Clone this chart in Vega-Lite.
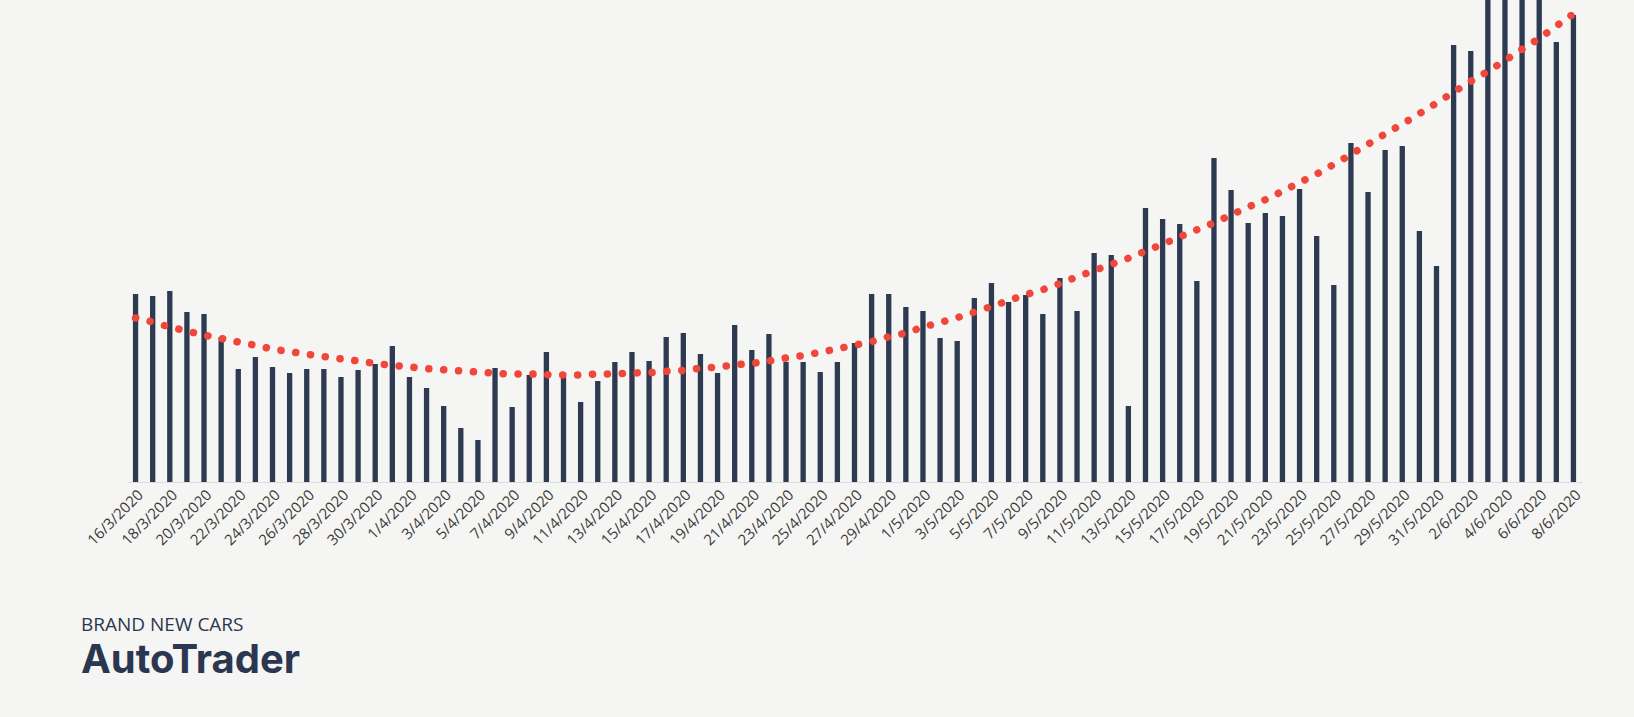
{
  "$schema": "https://vega.github.io/schema/vega-lite/v6.json",
  "autosize": {"type": "none"},
  "width": 1455,
  "height": 482,
  "padding": {"left": 127, "top": 0, "right": 52, "bottom": 235},
  "background": "#f5f5f3",
  "config": {"view": {"stroke": null}, "font": "Open Sans"},
  "title": {
    "text": "BRAND NEW CARS",
    "subtitle": "AutoTrader",
    "orient": "bottom",
    "anchor": "start",
    "frame": "group",
    "dx": -46,
    "offset": 68,
    "font": "Open Sans",
    "fontSize": 19,
    "fontWeight": 400,
    "color": "#2b3750",
    "subtitleFont": "Inter",
    "subtitleFontSize": 40,
    "subtitleFontWeight": 700,
    "subtitleColor": "#2b3750",
    "subtitlePadding": 6
  },
  "data": {"values": [
    {"date": "16/3/2020", "value": 188, "trend": 164},
    {"date": "17/3/2020", "value": 186, "trend": 160},
    {"date": "18/3/2020", "value": 191, "trend": 155},
    {"date": "19/3/2020", "value": 170, "trend": 151},
    {"date": "20/3/2020", "value": 168, "trend": 147},
    {"date": "21/3/2020", "value": 145, "trend": 143.5},
    {"date": "22/3/2020", "value": 113, "trend": 140},
    {"date": "23/3/2020", "value": 125, "trend": 136.6},
    {"date": "24/3/2020", "value": 115, "trend": 133},
    {"date": "25/3/2020", "value": 109, "trend": 130.4},
    {"date": "26/3/2020", "value": 113, "trend": 127.8},
    {"date": "27/3/2020", "value": 113, "trend": 125.5},
    {"date": "28/3/2020", "value": 105, "trend": 123.2},
    {"date": "29/3/2020", "value": 112, "trend": 121},
    {"date": "30/3/2020", "value": 118, "trend": 118.6},
    {"date": "31/3/2020", "value": 136, "trend": 116.7},
    {"date": "1/4/2020", "value": 105, "trend": 115.1},
    {"date": "2/4/2020", "value": 94, "trend": 113.4},
    {"date": "3/4/2020", "value": 76, "trend": 112.2},
    {"date": "4/4/2020", "value": 54, "trend": 111.1},
    {"date": "5/4/2020", "value": 42, "trend": 110},
    {"date": "6/4/2020", "value": 114, "trend": 108.8},
    {"date": "7/4/2020", "value": 75, "trend": 108},
    {"date": "8/4/2020", "value": 107, "trend": 108},
    {"date": "9/4/2020", "value": 130, "trend": 107.4},
    {"date": "10/4/2020", "value": 105, "trend": 107},
    {"date": "11/4/2020", "value": 80, "trend": 107},
    {"date": "12/4/2020", "value": 101, "trend": 108},
    {"date": "13/4/2020", "value": 120, "trend": 108.2},
    {"date": "14/4/2020", "value": 130, "trend": 109},
    {"date": "15/4/2020", "value": 121, "trend": 109.4},
    {"date": "16/4/2020", "value": 145, "trend": 110.6},
    {"date": "17/4/2020", "value": 149, "trend": 111.7},
    {"date": "18/4/2020", "value": 128, "trend": 113.7},
    {"date": "19/4/2020", "value": 109, "trend": 115},
    {"date": "20/4/2020", "value": 157, "trend": 117.1},
    {"date": "21/4/2020", "value": 132, "trend": 118.6},
    {"date": "22/4/2020", "value": 148, "trend": 121},
    {"date": "23/4/2020", "value": 120, "trend": 124.1},
    {"date": "24/4/2020", "value": 120, "trend": 126.5},
    {"date": "25/4/2020", "value": 110, "trend": 129.8},
    {"date": "26/4/2020", "value": 120, "trend": 133.2},
    {"date": "27/4/2020", "value": 139, "trend": 136.8},
    {"date": "28/4/2020", "value": 188, "trend": 140.5},
    {"date": "29/4/2020", "value": 188, "trend": 145.3},
    {"date": "30/4/2020", "value": 175, "trend": 149.1},
    {"date": "1/5/2020", "value": 171, "trend": 154.9},
    {"date": "2/5/2020", "value": 144, "trend": 159.5},
    {"date": "3/5/2020", "value": 141, "trend": 164.4},
    {"date": "4/5/2020", "value": 184, "trend": 169.9},
    {"date": "5/5/2020", "value": 199, "trend": 175.6},
    {"date": "6/5/2020", "value": 180, "trend": 181.4},
    {"date": "7/5/2020", "value": 187, "trend": 187.3},
    {"date": "8/5/2020", "value": 168, "trend": 192.4},
    {"date": "9/5/2020", "value": 204, "trend": 198.5},
    {"date": "10/5/2020", "value": 171, "trend": 205.1},
    {"date": "11/5/2020", "value": 229, "trend": 211.5},
    {"date": "12/5/2020", "value": 227, "trend": 217.6},
    {"date": "13/5/2020", "value": 76, "trend": 223.8},
    {"date": "14/5/2020", "value": 274, "trend": 230.9},
    {"date": "15/5/2020", "value": 263, "trend": 237.8},
    {"date": "16/5/2020", "value": 258, "trend": 245.1},
    {"date": "17/5/2020", "value": 201, "trend": 252.2},
    {"date": "18/5/2020", "value": 324, "trend": 259.2},
    {"date": "19/5/2020", "value": 292, "trend": 267.1},
    {"date": "20/5/2020", "value": 259, "trend": 274.9},
    {"date": "21/5/2020", "value": 269, "trend": 282.3},
    {"date": "22/5/2020", "value": 266, "trend": 290.8},
    {"date": "23/5/2020", "value": 293, "trend": 299.5},
    {"date": "24/5/2020", "value": 246, "trend": 308},
    {"date": "25/5/2020", "value": 197, "trend": 317.6},
    {"date": "26/5/2020", "value": 339, "trend": 327.6},
    {"date": "27/5/2020", "value": 290, "trend": 337.8},
    {"date": "28/5/2020", "value": 332, "trend": 348.1},
    {"date": "29/5/2020", "value": 336, "trend": 357.9},
    {"date": "30/5/2020", "value": 251, "trend": 368.4},
    {"date": "31/5/2020", "value": 216, "trend": 378.9},
    {"date": "1/6/2020", "value": 437, "trend": 389.9},
    {"date": "2/6/2020", "value": 431, "trend": 400.5},
    {"date": "3/6/2020", "value": 500, "trend": 410.7},
    {"date": "4/6/2020", "value": 510, "trend": 421.5},
    {"date": "5/6/2020", "value": 505, "trend": 432.8},
    {"date": "6/6/2020", "value": 520, "trend": 443.6},
    {"date": "7/6/2020", "value": 440, "trend": 456},
    {"date": "8/6/2020", "value": 467, "trend": 468}
  ]},
  "encoding": {
    "x": {
      "field": "date",
      "type": "ordinal",
      "sort": null,
      "scale": {"paddingInner": 0.69, "paddingOuter": 0.345},
      "axis": {
        "title": null,
        "values": ["16/3/2020","18/3/2020","20/3/2020","22/3/2020","24/3/2020","26/3/2020","28/3/2020","30/3/2020","1/4/2020","3/4/2020","5/4/2020","7/4/2020","9/4/2020","11/4/2020","13/4/2020","15/4/2020","17/4/2020","19/4/2020","21/4/2020","23/4/2020","25/4/2020","27/4/2020","29/4/2020","1/5/2020","3/5/2020","5/5/2020","7/5/2020","9/5/2020","11/5/2020","13/5/2020","15/5/2020","17/5/2020","19/5/2020","21/5/2020","23/5/2020","25/5/2020","27/5/2020","29/5/2020","31/5/2020","2/6/2020","4/6/2020","6/6/2020","8/6/2020"],
        "labelAngle": -45,
        "labelFontSize": 15,
        "labelFont": "Open Sans",
        "labelColor": "#3a3a3a",
        "labelPadding": 5,
        "ticks": false,
        "domainColor": "#dddddd",
        "domainWidth": 1,
        "grid": false
      }
    }
  },
  "layer": [
    {
      "mark": {"type": "bar", "color": "#2d3a52", "clip": true},
      "encoding": {
        "y": {"field": "value", "type": "quantitative", "scale": {"domain": [0, 482], "nice": false}, "axis": null}
      }
    },
    {
      "mark": {"type": "line", "color": "#f0473a", "strokeWidth": 7.5, "strokeCap": "round", "strokeDash": [0.1, 14.8], "interpolate": "monotone"},
      "encoding": {
        "y": {"field": "trend", "type": "quantitative", "scale": {"domain": [0, 482], "nice": false}, "axis": null}
      }
    }
  ]
}
